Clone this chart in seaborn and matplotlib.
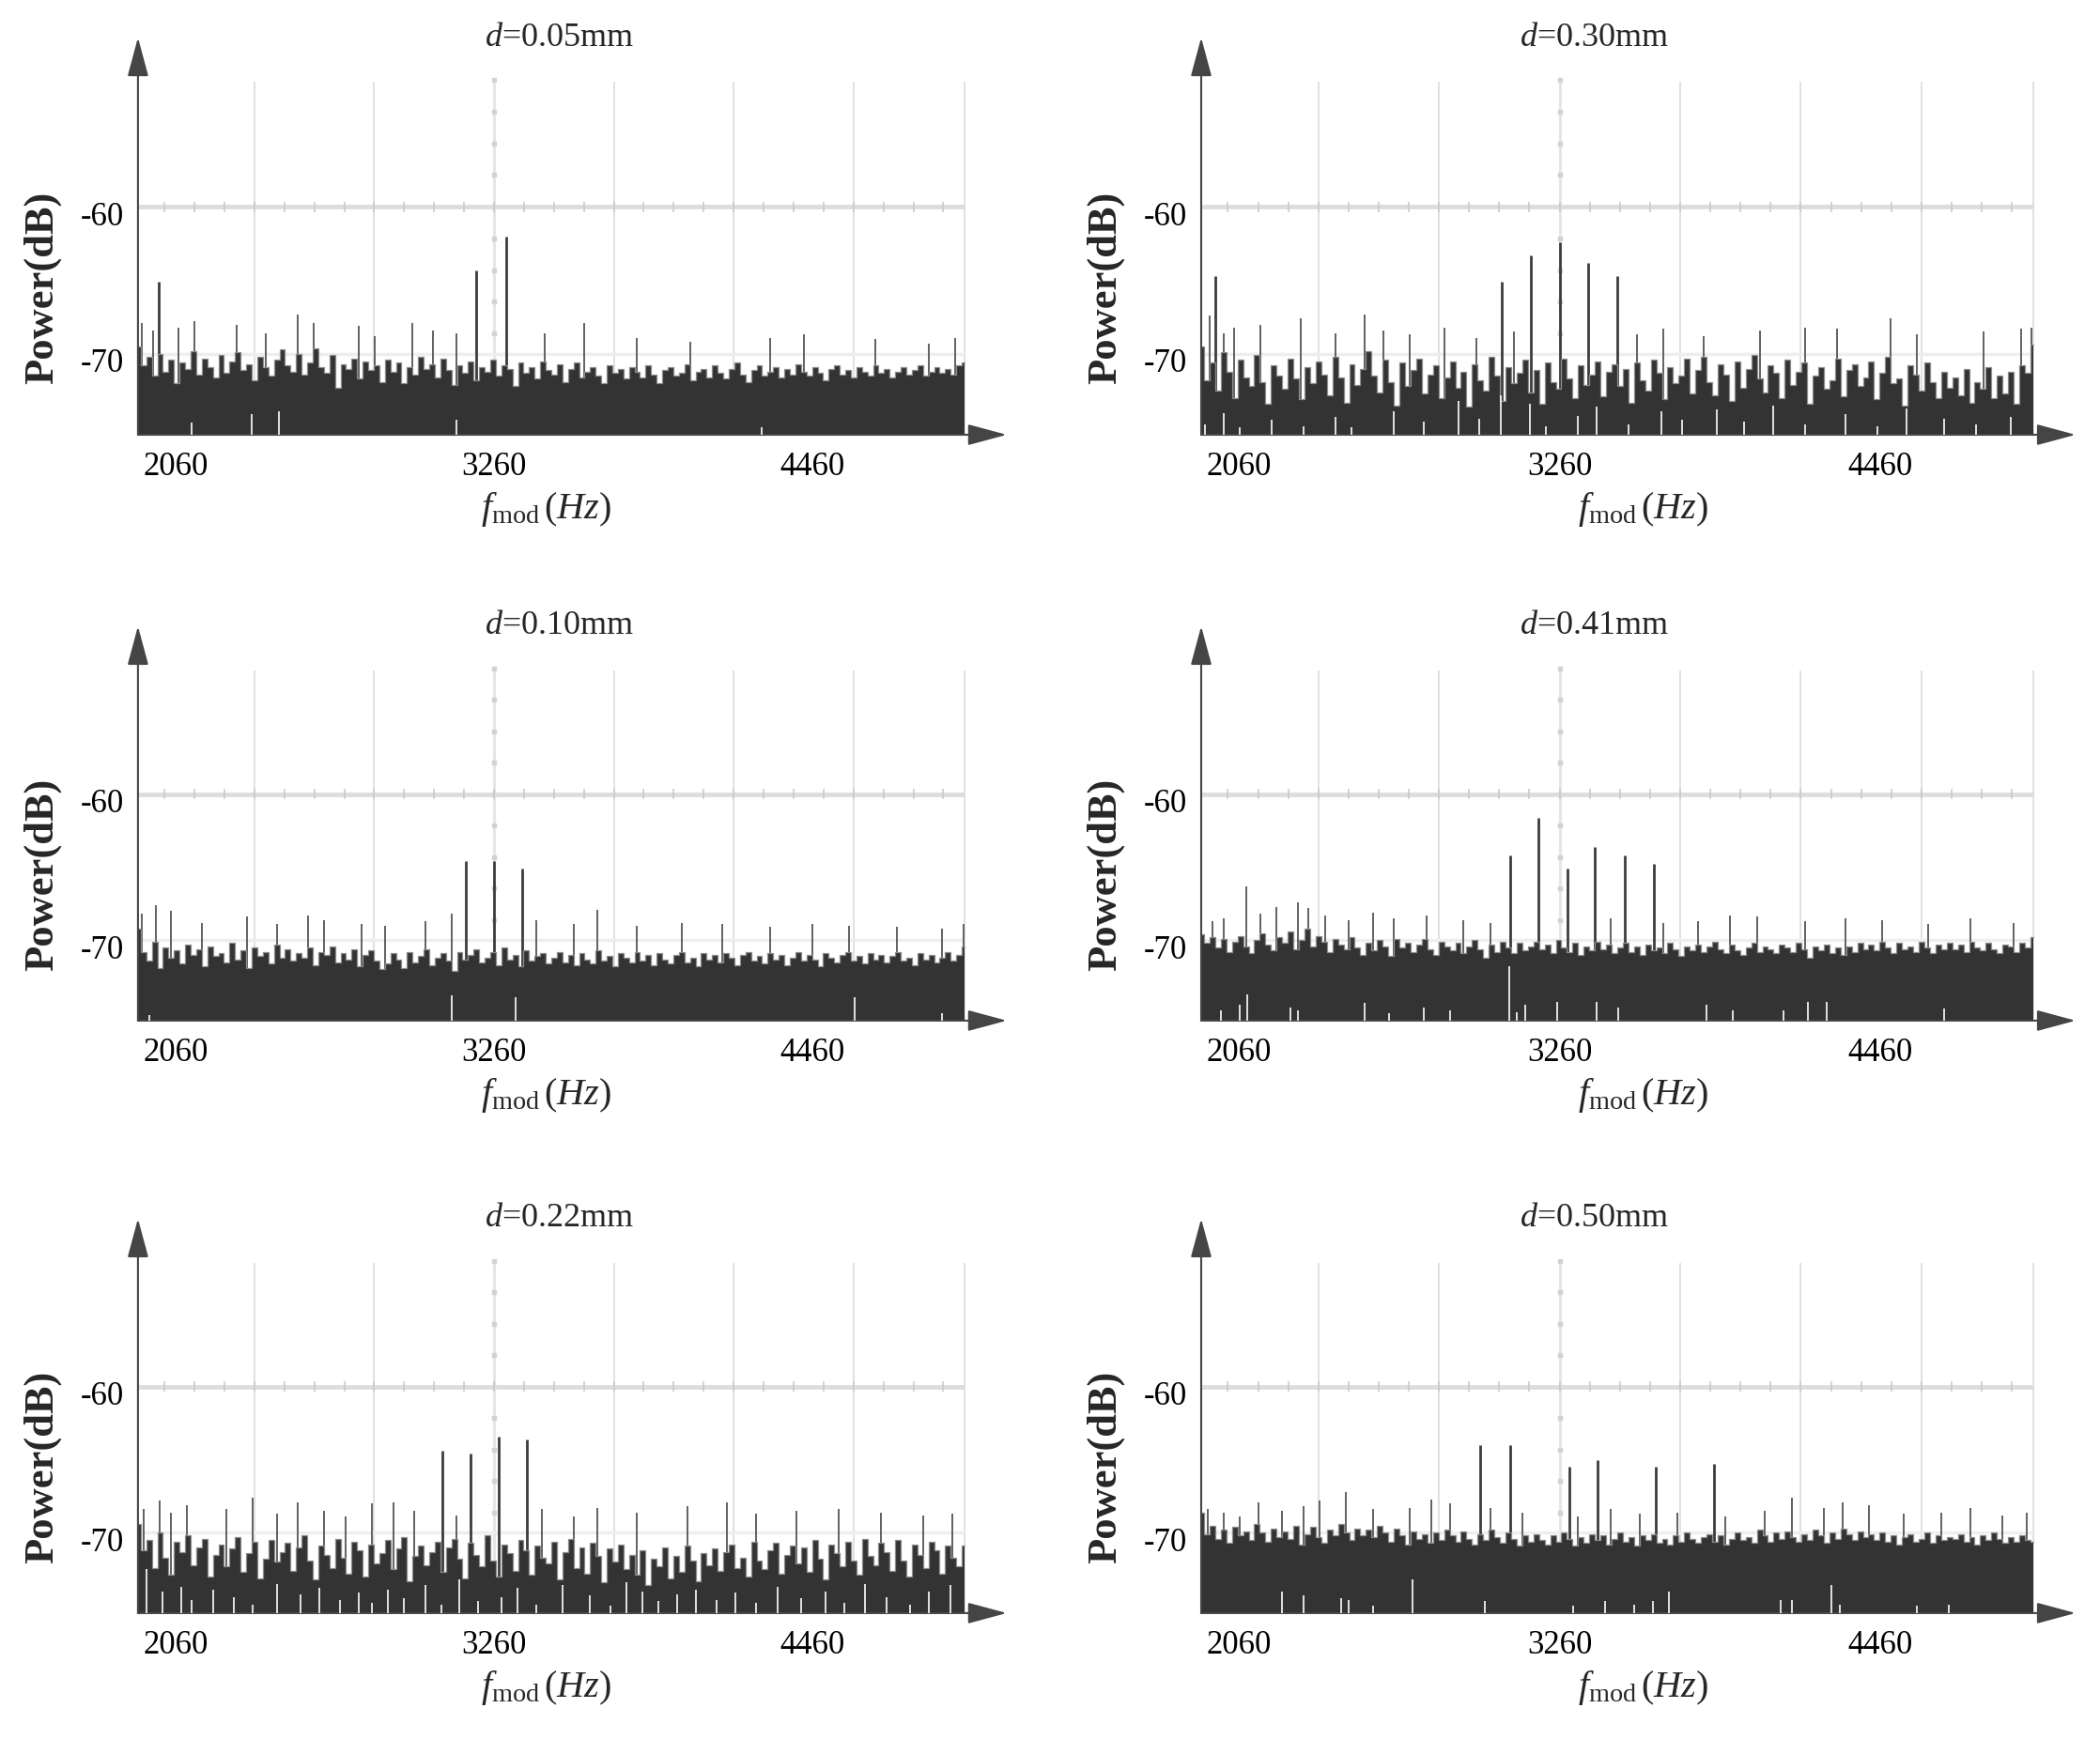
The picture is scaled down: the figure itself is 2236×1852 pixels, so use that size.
import numpy as np
import pandas as pd
import seaborn as sns
import matplotlib.pyplot as plt
from matplotlib.transforms import ScaledTranslation

# analyser trace span (Hz) and floor of the plot (dB)
F_START = 1917
F_END = 5035
DB_BOTTOM = -75.5
F_CENTER = 3260

titles = ["0.05", "0.30", "0.10", "0.41", "0.22", "0.50"]
tick_labels = ["2060", "3260", "4460"]

# noise floor (left to right)
noise_005 = [
    -69.5, -70.8, -70.2, -71.5, -70.0, -71.2, -70.4, -72.0, -70.6, -71.0, -69.8, -71.4, -70.3, -70.9, -71.6,
    -70.1, -71.3, -70.5, -69.9, -71.1, -70.7, -71.8, -70.2, -70.9, -71.5, -70.4, -69.7, -70.8, -71.2, -70.0,
    -71.4, -70.6, -69.6, -70.9, -71.3, -70.1, -72.3, -70.7, -71.0, -70.3, -71.7, -70.5, -71.1, -70.8, -71.9,
    -70.4, -71.2, -70.6, -72.0, -70.9, -71.4, -70.2, -71.0, -70.7, -71.6, -70.3, -71.1, -72.1, -70.8, -71.3,
    -70.5, -71.8, -70.9, -71.2, -70.4, -71.5, -70.8, -71.0, -72.2, -70.6, -71.3, -70.9, -71.7, -70.5, -71.1,
    -71.4, -70.7, -71.9, -71.0, -70.6, -71.6, -71.2, -70.9, -71.5, -72.0, -70.8, -71.3, -71.0, -71.7, -70.9,
    -71.2, -71.6, -70.8, -71.4, -72.0, -71.1, -70.9, -71.5, -71.3, -70.7, -71.8, -71.2, -71.0, -71.6, -70.8,
    -71.3, -71.7, -71.0, -70.6, -71.4, -71.9, -71.1, -70.8, -71.5, -71.2, -70.9, -71.6, -71.0, -71.4, -70.7,
    -71.2, -71.5, -70.9, -71.3, -71.8, -71.0, -70.8, -71.4, -71.1, -71.6, -70.9, -71.2, -71.5, -70.8, -71.3,
    -71.0, -71.6, -71.2, -70.9, -71.4, -71.1, -70.8, -71.5, -71.2, -70.9, -71.3, -71.0, -71.4, -70.8, -70.6,
]
noise_030 = [
    -69.5, -71.8, -70.6, -72.5, -69.9, -71.2, -73.0, -70.4, -71.6, -72.2, -70.1, -71.9, -73.4, -70.8, -71.5,
    -72.4, -70.3, -71.7, -73.1, -70.9, -72.0, -70.5, -71.4, -72.8, -70.2, -71.6, -73.3, -70.7, -72.1, -71.0,
    -69.8, -71.5, -72.6, -70.4, -71.9, -73.5, -70.6, -72.2, -71.1, -70.3, -72.7, -71.4, -70.8, -73.0, -71.6,
    -70.5, -72.3, -71.2, -73.6, -70.7, -71.8, -72.5, -70.2, -71.5, -73.2, -70.9, -72.0, -71.3, -70.4, -72.6,
    -71.1, -73.4, -70.6, -71.9, -72.4, -70.3, -71.7, -73.0, -70.8, -72.1, -71.4, -70.5, -72.9, -71.2, -70.7,
    -72.2, -71.0, -73.3, -70.6, -71.8, -72.5, -70.4, -71.3, -73.1, -70.9, -72.0, -71.5, -70.3, -72.7, -71.1,
    -70.2, -71.9, -72.8, -70.7, -71.4, -73.2, -70.5, -72.3, -71.0, -70.1, -71.7, -72.6, -70.8, -71.3, -73.0,
    -70.4, -72.1, -71.2, -70.6, -73.4, -71.5, -70.9, -72.4, -71.8, -70.3, -72.9, -71.1, -70.7, -72.2, -71.6,
    -70.5, -73.1, -71.3, -70.2, -72.0, -71.7, -73.5, -70.8, -71.4, -72.5, -70.6, -71.9, -73.0, -71.2, -72.3,
    -71.6, -72.8, -71.0, -73.3, -71.9, -72.4, -70.9, -73.0, -71.5, -72.7, -71.2, -73.4, -70.8, -71.3, -69.4,
]
noise_010 = [
    -69.2, -70.8, -71.4, -70.1, -71.9, -70.5, -71.2, -70.7, -71.6, -70.3, -71.0, -70.6, -71.8, -70.4, -71.1,
    -70.9, -71.5, -70.2, -71.3, -70.7, -71.9, -70.5, -71.1, -70.8, -71.6, -70.3, -71.2, -70.6, -71.4, -70.9,
    -71.2, -70.5, -71.7, -70.8, -71.0, -70.4, -71.5, -70.9, -71.3, -70.6, -71.8, -71.0, -70.7, -71.4, -72.0,
    -71.6, -70.9, -71.3, -71.9, -70.8, -71.5, -71.1, -70.6, -71.7, -71.2, -70.9, -71.4, -72.1, -70.8, -71.3,
    -71.0, -70.6, -71.5, -71.2, -70.8, -71.7, -70.5, -71.3, -71.0, -71.8, -70.7, -71.4, -71.1, -70.9, -71.6,
    -71.2, -70.8, -71.5, -71.0, -71.7, -70.9, -71.3, -71.6, -70.7, -71.4, -71.1, -71.8, -70.9, -71.2, -71.5,
    -70.8, -71.4, -71.0, -71.7, -70.9, -71.3, -71.6, -71.0, -70.8, -71.5, -71.2, -71.8, -70.9, -71.3, -71.0,
    -71.5, -70.9, -71.2, -71.7, -71.0, -70.8, -71.4, -71.1, -71.6, -70.9, -71.3, -71.0, -71.7, -71.2, -70.8,
    -71.4, -71.0, -71.3, -71.8, -70.9, -71.2, -71.5, -71.0, -70.8, -71.4, -71.1, -71.6, -70.9, -71.3, -71.0,
    -71.5, -71.1, -70.8, -71.4, -71.2, -71.7, -70.9, -71.3, -71.0, -71.5, -71.2, -70.8, -71.4, -71.0, -70.4,
]
noise_041 = [
    -69.6, -70.2, -69.8, -70.5, -69.9, -70.8, -70.1, -69.7, -70.4, -70.9, -70.0, -69.5, -70.3, -70.7, -69.8,
    -70.2, -69.4, -70.6, -70.0, -69.2, -70.4, -69.7, -70.1, -70.8, -69.9, -70.3, -70.6, -69.8, -70.5, -71.0,
    -70.2, -70.7, -70.0, -70.4, -71.1, -69.9, -70.5, -70.2, -70.8, -70.3, -69.9, -70.6, -71.0, -70.1, -70.4,
    -70.7, -70.2, -70.9, -70.4, -70.0, -70.6, -71.2, -70.3, -70.8, -70.1, -70.5, -70.9, -70.2, -70.7, -70.4,
    -70.1, -70.6, -70.3, -70.9, -70.0, -70.5, -70.8, -70.2, -71.0, -70.4, -70.7, -70.1, -70.6, -70.3, -70.9,
    -70.5, -70.2, -70.8, -70.4, -71.0, -70.3, -70.7, -70.5, -70.9, -70.2, -70.6, -71.1, -70.4, -70.7, -70.3,
    -70.8, -70.4, -70.1, -70.6, -70.9, -70.3, -70.7, -71.0, -70.5, -70.2, -70.8, -70.4, -70.6, -70.9, -70.3,
    -70.5, -70.8, -70.2, -70.6, -71.2, -70.4, -70.7, -70.3, -70.9, -70.5, -71.0, -70.4, -70.8, -70.2, -70.6,
    -70.3, -70.7, -70.1, -70.5, -70.9, -70.2, -70.6, -70.4, -70.8, -70.1, -70.5, -70.9, -70.3, -70.6, -70.2,
    -70.6, -70.3, -70.8, -70.1, -70.5, -70.7, -70.2, -70.6, -70.9, -70.3, -70.4, -70.8, -70.2, -70.5, -69.8,
]
noise_022 = [
    -69.4, -71.2, -70.5, -72.4, -70.0, -71.7, -72.9, -70.6, -71.3, -70.2, -72.2, -71.0, -70.4, -73.0, -71.5,
    -70.8, -72.3, -71.1, -70.3, -72.7, -71.4, -70.6, -73.1, -71.8, -70.5, -72.0, -71.3, -70.7, -72.6, -71.0,
    -70.2, -71.9, -73.2, -70.9, -71.5, -72.4, -70.4, -71.7, -72.8, -70.6, -71.2, -73.0, -70.8, -72.1, -71.4,
    -70.5, -72.5, -71.1, -70.3, -73.3, -71.6, -70.9, -72.2, -71.3, -70.6, -72.7, -71.0, -70.4, -71.8, -73.1,
    -70.7, -71.5, -72.3, -70.2, -71.9, -73.0, -70.8, -71.4, -72.6, -70.5, -71.2, -72.9, -70.9, -71.7, -72.1,
    -70.6, -73.2, -71.3, -70.4, -72.4, -71.0, -72.8, -70.7, -71.6, -73.4, -71.1, -72.0, -70.8, -72.5, -71.5,
    -72.9, -71.2, -73.6, -71.8, -72.3, -71.0, -73.1, -71.6, -72.7, -70.9, -71.9, -73.3, -71.4, -72.2, -71.1,
    -72.6, -71.3, -70.8, -72.4, -71.7, -73.0, -70.6, -71.9, -72.5, -71.2, -70.7, -72.8, -71.5, -70.9, -72.1,
    -71.0, -72.7, -70.5, -71.8, -73.2, -70.8, -71.4, -72.3, -70.6, -71.9, -72.9, -70.4, -71.6, -72.2, -70.7,
    -71.3, -72.6, -70.5, -71.9, -73.0, -70.8, -71.5, -72.4, -70.6, -71.2, -72.8, -70.9, -71.7, -72.3, -70.9,
]
noise_050 = [
    -68.6, -70.1, -69.5, -70.4, -69.8, -70.7, -69.6, -70.2, -69.9, -70.5, -69.4, -70.0, -70.6, -69.7, -70.3,
    -69.9, -70.4, -69.5, -70.8, -70.1, -69.6, -70.3, -70.7, -69.8, -70.2, -69.4, -70.0, -70.5, -69.7, -70.2,
    -69.8, -70.3, -69.5, -70.0, -70.6, -69.7, -70.2, -70.8, -69.9, -70.4, -70.1, -70.7, -70.0, -70.5, -69.8,
    -70.2, -70.6, -69.9, -70.4, -70.8, -70.1, -70.5, -69.8, -70.3, -70.7, -70.0, -70.4, -70.9, -70.2, -70.6,
    -70.1, -70.5, -70.8, -70.2, -70.6, -70.0, -70.4, -70.9, -70.3, -70.7, -70.1, -70.5, -70.2, -70.8, -70.4,
    -70.0, -70.6, -70.3, -70.9, -70.2, -70.5, -70.1, -70.7, -70.4, -70.8, -70.2, -70.6, -70.0, -70.4, -70.7,
    -70.3, -70.1, -70.6, -70.2, -70.8, -70.4, -70.0, -70.5, -70.3, -70.7, -69.8, -70.2, -70.6, -70.0, -70.4,
    -69.9, -70.3, -70.6, -70.1, -70.5, -69.8, -70.2, -70.7, -70.0, -70.4, -69.7, -70.1, -70.5, -69.9, -70.3,
    -70.1, -70.5, -70.0, -70.6, -70.2, -70.8, -70.3, -70.1, -70.6, -70.4, -70.0, -70.7, -70.2, -70.5, -70.3,
    -70.4, -70.1, -70.6, -70.3, -70.8, -70.2, -70.5, -70.0, -70.4, -70.7, -70.3, -70.6, -70.2, -70.5, -70.6,
]

# single-bin noise spikes above the floor: frequency (Hz), level (dB)
spike_f_005 = [1930, 1975, 2070, 2130, 2290, 2400, 2520, 2580, 2750, 2810, 2950, 3030, 3120, 3450, 3600, 3800, 4000, 4300, 4430, 4700, 4900, 5000]
spike_p_005 = [-67.9, -68.4, -68.2, -67.8, -68.0, -68.6, -67.3, -67.9, -68.1, -68.8, -67.9, -68.4, -68.6, -68.6, -67.9, -68.9, -69.2, -68.9, -68.7, -69.0, -69.3, -68.9]
spike_f_030 = [1950, 2000, 2040, 2140, 2290, 2420, 2530, 2600, 2700, 2830, 2950, 3090, 3550, 3650, 3800, 4010, 4180, 4300, 4500, 4600, 4850, 4990, 5030]
spike_p_030 = [-67.4, -68.6, -68.2, -68.0, -67.6, -68.6, -67.3, -68.4, -68.7, -68.2, -68.9, -68.5, -68.7, -68.3, -68.8, -68.4, -68.2, -68.3, -67.6, -68.7, -68.5, -68.3, -68.2]
spike_f_010 = [1930, 1985, 2040, 2160, 2330, 2440, 2560, 2620, 2760, 2850, 3000, 3100, 3420, 3560, 3650, 3800, 3970, 4120, 4300, 4460, 4600, 4780, 4950, 5030]
spike_p_010 = [-68.2, -67.6, -68.0, -68.8, -68.4, -68.9, -68.3, -68.6, -68.9, -69.0, -68.7, -68.2, -68.6, -68.9, -67.9, -69.0, -68.8, -68.9, -69.1, -68.9, -69.0, -69.1, -69.2, -68.9]
spike_f_041 = [1960, 2000, 2087, 2140, 2200, 2280, 2320, 2380, 2470, 2560, 2640, 2760, 2900, 3000, 3450, 3650, 3780, 3900, 4000, 4180, 4330, 4470, 4640, 4800, 4960]
spike_p_041 = [-68.7, -68.5, -66.3, -68.2, -67.7, -67.4, -67.8, -68.3, -68.6, -68.1, -68.5, -68.3, -68.6, -68.8, -68.5, -68.8, -68.7, -68.3, -68.4, -68.7, -68.5, -68.6, -68.9, -68.5, -68.8]
spike_f_022 = [1940, 2000, 2040, 2100, 2250, 2350, 2440, 2520, 2620, 2700, 2800, 2880, 2960, 3120, 3440, 3560, 3650, 3800, 3990, 4140, 4250, 4400, 4560, 4720, 4880, 4990]
spike_p_022 = [-68.4, -67.8, -68.6, -68.1, -68.4, -67.6, -68.7, -67.9, -68.5, -68.9, -68.0, -67.9, -68.5, -68.8, -68.4, -68.9, -68.3, -68.6, -68.2, -67.9, -68.7, -68.5, -68.4, -68.6, -68.8, -68.7]
spike_f_050 = [1940, 2000, 2060, 2130, 2220, 2300, 2360, 2460, 2560, 2700, 2780, 2850, 3000, 3120, 3330, 3450, 3560, 3700, 3880, 4030, 4130, 4250, 4320, 4420, 4550, 4690, 4800, 4920, 5010]
spike_p_050 = [-68.4, -68.6, -68.9, -67.9, -68.5, -68.2, -67.8, -67.2, -68.4, -68.3, -67.7, -68.0, -68.3, -68.6, -68.9, -68.4, -68.7, -68.6, -68.9, -68.5, -67.6, -68.3, -67.9, -68.1, -68.7, -68.6, -68.3, -68.8, -68.6]

# empty bins near the bottom of the trace: frequency (Hz), top of the gap (dB)
gap_f_005 = [2120, 2345, 2450, 3120, 4270]
gap_p_005 = [-74.7, -74.1, -73.9, -74.5, -75.0]
gap_f_030 = [1930, 2000, 2060, 2180, 2300, 2420, 2480, 2640, 2750, 2880, 2960, 3040, 3150, 3210, 3330, 3400, 3520, 3640, 3720, 3850, 3950, 4060, 4180, 4330, 4450, 4560, 4700, 4820, 4950]
gap_p_030 = [-74.8, -74.0, -75.0, -74.5, -74.9, -74.3, -75.0, -73.9, -74.6, -73.2, -74.4, -72.8, -73.4, -74.9, -74.2, -73.6, -74.8, -73.9, -74.5, -73.8, -74.6, -73.5, -74.8, -74.1, -74.9, -73.7, -74.4, -74.8, -74.3]
gap_f_010 = [1960, 3100, 3340, 4620, 4950]
gap_p_010 = [-75.1, -73.8, -73.9, -73.9, -75.0]
gap_f_041 = [1990, 2060, 2090, 2250, 2280, 2530, 2620, 2750, 2850, 3070, 3100, 3130, 3250, 3400, 3480, 3810, 3910, 4100, 4190, 4260, 4700]
gap_p_041 = [-74.8, -74.4, -73.7, -74.6, -74.8, -74.3, -75.0, -74.6, -74.8, -71.8, -74.9, -74.4, -74.2, -74.2, -74.6, -74.4, -74.8, -74.8, -74.2, -74.2, -74.7]
gap_f_022 = [1950, 2010, 2080, 2120, 2200, 2280, 2350, 2440, 2530, 2600, 2680, 2750, 2800, 2860, 2920, 3000, 3060, 3130, 3200, 3290, 3350, 3420, 3520, 3620, 3700, 3760, 3820, 3880, 3950, 4020, 4100, 4170, 4250, 4330, 4420, 4510, 4580, 4660, 4740, 4830, 4900, 4980]
gap_p_022 = [-72.5, -74.0, -73.7, -74.6, -73.9, -74.4, -74.9, -73.5, -74.2, -73.8, -74.6, -74.1, -74.8, -73.9, -74.5, -73.6, -74.9, -73.2, -74.7, -74.4, -73.8, -74.9, -73.6, -74.3, -75.0, -73.4, -74.0, -74.7, -74.2, -73.9, -74.6, -74.1, -74.8, -73.7, -74.5, -74.0, -74.8, -73.5, -74.4, -74.9, -74.0, -73.6]
gap_f_050 = [2220, 2300, 2440, 2470, 2560, 2710, 2980, 3310, 3430, 3540, 3610, 3670, 4090, 4130, 4280, 4310, 4600, 4720]
gap_p_050 = [-74.0, -74.3, -74.5, -74.6, -75.0, -73.2, -74.7, -75.0, -74.7, -74.9, -74.7, -74.0, -74.6, -74.6, -73.6, -74.9, -75.0, -74.9]

# sideband peaks: frequency (Hz), level (dB)
peak_f_005 = [1996, 3193, 3306]
peak_p_005 = [-65.1, -64.3, -62.0]
peak_f_030 = [1970, 3045, 3152, 3260, 3368, 3476]
peak_p_030 = [-64.7, -65.1, -63.3, -62.4, -63.8, -64.7]
peak_f_010 = [3152, 3260, 3368]
peak_p_010 = [-64.6, -64.6, -65.1]
peak_f_041 = [3075, 3180, 3290, 3392, 3503, 3612]
peak_p_041 = [-64.2, -61.6, -65.1, -63.6, -64.2, -64.8]
peak_f_022 = [3066, 3173, 3277, 3385]
peak_p_022 = [-64.4, -64.6, -63.4, -63.6]
peak_f_050 = [2962, 3074, 3298, 3404, 3620, 3840]
peak_p_050 = [-64.0, -64.0, -65.5, -65.0, -65.5, -65.3]

DARK = "#333333"
AXIS = "#454545"
GRID = "#dcdcdc"


def draw_panel(ax, noise, sf, sp, gf, gp, pf, pp, title, col):
    freq = np.linspace(F_START, F_END, len(noise))
    df = pd.DataFrame({"f": freq, "p": noise})

    # background grid of the analyser screen
    grid_step = 452
    grid_f = [F_CENTER + k * grid_step for k in (-2, -1, 1, 2, 3)] + [F_END]
    ax.vlines(grid_f, DB_BOTTOM, -51.5, color=GRID, lw=1.2, zorder=1)
    ax.vlines(F_CENTER, DB_BOTTOM, -51.4, color="#e6e6e6", lw=2.2, zorder=1)
    ax.plot([F_CENTER] * 9, [-60 + 2.15 * k for k in range(-4, 5)], "s",
            ms=3.5, color="#d2d2d2", zorder=1)
    ax.hlines(-60, F_START, F_END, color="#dddddd", lw=3.5, zorder=1)
    minor = [F_CENTER + k * grid_step / 4 for k in range(-11, 16)]
    ax.vlines(minor, -60.35, -59.65, color="#c8c8c8", lw=1.1, zorder=1)
    ax.hlines(-70, F_START, F_END, color="#eeeeee", lw=2.5, zorder=2)

    # spectrum: spikes and peaks sit behind the noise body
    ax.vlines(sf, DB_BOTTOM, sp, color="#555555", lw=1.3, zorder=2.5)
    ax.vlines(pf, DB_BOTTOM, pp, color="#3c3c3c", lw=2.0, zorder=2.6)
    ax.fill_between(freq, DB_BOTTOM, noise, step="mid", color=DARK, lw=0, zorder=3)
    sns.lineplot(data=df, x="f", y="p", ax=ax, drawstyle="steps-mid",
                 color="#8c8c8c", lw=0.9, zorder=3)
    ax.vlines(gf, DB_BOTTOM, gp, color="white", lw=1.2, zorder=4)

    ax.set_xlim(F_START, 5194)
    ax.set_ylim(DB_BOTTOM, -48.5)
    for s in ax.spines.values():
        s.set_visible(False)

    arrow = dict(arrowstyle="-|>,head_length=1.3,head_width=0.35", color=AXIS,
                 lw=1.5, shrinkA=0, shrinkB=0, mutation_scale=20)
    ax.annotate("", xy=(0, 1), xytext=(0, 0), xycoords="axes fraction",
                arrowprops=arrow, annotation_clip=False)
    ax.annotate("", xy=(1, 0), xytext=(0, 0), xycoords="axes fraction",
                arrowprops=arrow, annotation_clip=False)

    ax.set_xticks([2060, 3260, 4460])
    ax.set_xticklabels(tick_labels)
    ax.set_yticks([-60, -70])
    ax.set_yticklabels(["-60", "-70"])
    ax.tick_params(axis="x", length=0, pad=13, labelsize=25, colors="black")
    ax.tick_params(axis="y", length=0, pad=11, labelsize=25, colors="black")
    for lab in ax.get_yticklabels():
        lab.set_transform(lab.get_transform() + ScaledTranslation(0, -0.07, ax.figure.dpi_scale_trans))

    ax.set_xlabel(r"$f_{\mathrm{mod}}\,(Hz)$", fontsize=29)
    ax.xaxis.set_label_coords(0.47 if col == 0 else 0.505, -0.14)
    ax.set_ylabel("Power(dB)", fontsize=32, fontweight="bold")
    ax.yaxis.set_label_coords(-0.088, 0.37)
    ax.text(0.485 if col == 0 else 0.45, 1.0, r"$d$=" + title + "mm",
            transform=ax.transAxes, ha="center", va="center", fontsize=26)
    ax.grid(False)


def main():
    sns.set_theme(style="white")
    plt.rcParams["font.family"] = ["Liberation Serif", "DejaVu Serif"]
    plt.rcParams["mathtext.fontset"] = "custom"
    plt.rcParams["mathtext.rm"] = "Liberation Serif"
    plt.rcParams["mathtext.it"] = "Liberation Serif:italic"

    fig = plt.figure(figsize=(22.36, 18.52), dpi=100)
    fig.patch.set_facecolor("white")

    lefts = [0.0657, 0.5720]
    widths = [0.4137, 0.4164]
    bottoms = [0.750, 0.4131, 0.0724]
    heights = [0.2284, 0.2268, 0.2268]

    panels = [
        (noise_005, spike_f_005, spike_p_005, gap_f_005, gap_p_005, peak_f_005, peak_p_005),
        (noise_030, spike_f_030, spike_p_030, gap_f_030, gap_p_030, peak_f_030, peak_p_030),
        (noise_010, spike_f_010, spike_p_010, gap_f_010, gap_p_010, peak_f_010, peak_p_010),
        (noise_041, spike_f_041, spike_p_041, gap_f_041, gap_p_041, peak_f_041, peak_p_041),
        (noise_022, spike_f_022, spike_p_022, gap_f_022, gap_p_022, peak_f_022, peak_p_022),
        (noise_050, spike_f_050, spike_p_050, gap_f_050, gap_p_050, peak_f_050, peak_p_050),
    ]

    for i, data in enumerate(panels):
        row, col = divmod(i, 2)
        ax = fig.add_axes([lefts[col], bottoms[row], widths[col], heights[row]])
        ax.set_facecolor("white")
        draw_panel(ax, *data, titles[i], col)

    fig.savefig("out.png", dpi=100, facecolor="white")


main()
